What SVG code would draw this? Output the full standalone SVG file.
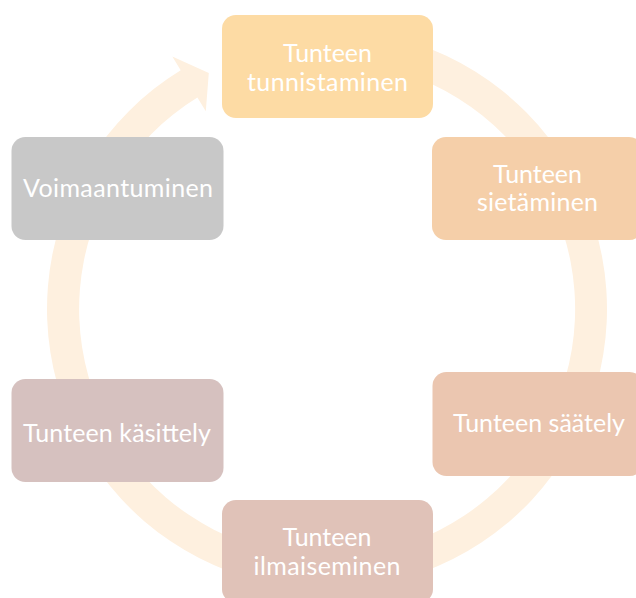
<svg xmlns="http://www.w3.org/2000/svg" width="636" height="598" viewBox="0 0 636 598">
<style>
.box{stroke:none}
.lbl{font-family:Lato,"Liberation Sans",sans-serif;font-size:25px;fill:#FFFFFF;text-anchor:middle}
</style>
<rect width="636" height="598" fill="#FFFFFF"/>
<g id="connectors">
<path id="cycle-arrow" fill="#FEF0DF" d="M351.4,30.1 A280,280 0 1 1 180.7,70.3 L172.3,56.6 L208.8,72.9 L205.8,111.2 L197.4,97.6 A248,248 0 1 0 348.6,61.9 Z"/>
</g>
<g id="node1"><rect class="box" x="222" y="15" width="211" height="103" rx="14" fill="#FDDBA4"/>
<text class="lbl" x="327.5" y="62" textLength="89">Tunteen</text>
<text class="lbl" x="327.5" y="90.5" textLength="161">tunnistaminen</text></g>
<g id="node2"><rect class="box" x="432" y="137" width="211" height="103" rx="14" fill="#F5CFA9"/>
<text class="lbl" x="537.5" y="182.5" textLength="89">Tunteen</text>
<text class="lbl" x="537.5" y="211" textLength="121">sietäminen</text></g>
<g id="node3"><rect class="box" x="432.5" y="372" width="211" height="104" rx="14" fill="#EBC6B0"/>
<text class="lbl" x="539" y="432" textLength="172">Tunteen säätely</text></g>
<g id="node4"><rect class="box" x="222" y="500" width="211" height="103" rx="14" fill="#E0C2B8"/>
<text class="lbl" x="327" y="545.5" textLength="89">Tunteen</text>
<text class="lbl" x="327" y="575" textLength="147">ilmaiseminen</text></g>
<g id="node5"><rect class="box" x="11.5" y="379" width="212" height="103" rx="14" fill="#D6C1BF"/>
<text class="lbl" x="117" y="442" textLength="188">Tunteen käsittely</text></g>
<g id="node6"><rect class="box" x="11.5" y="137" width="212" height="103" rx="14" fill="#C8C8C8"/>
<text class="lbl" x="118" y="197" textLength="190">Voimaantuminen</text></g>
</svg>
